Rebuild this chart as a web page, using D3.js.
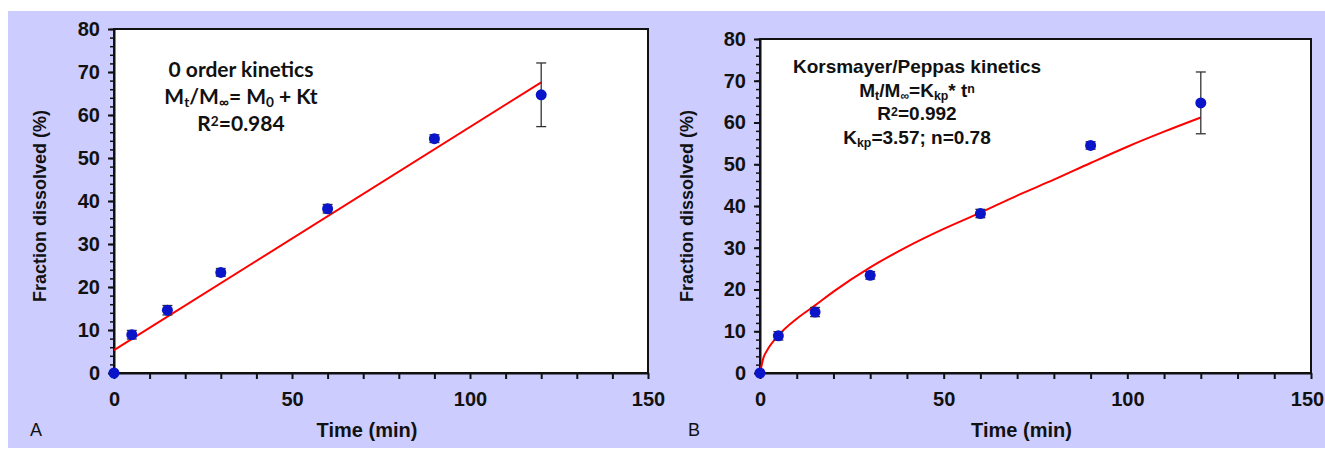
<!DOCTYPE html>
<html>
<head>
<meta charset="utf-8">
<script src="https://cdn.jsdelivr.net/npm/d3@7"></script>
<style>
  body { margin: 0; background: #fff; }
  svg { display: block; }
</style>
</head>
<body>
<div id="chart-area"></div>
<script>
// measured data (same release data in both panels)
var times = [0, 5, 15, 30, 60, 90, 120];
var dissolved = [0, 8.9, 14.6, 23.4, 38.2, 54.5, 64.7];
var errors = [0.3, 1.0, 1.1, 0.9, 1.0, 0.9, 7.4];

// fitted curves
var zeroFitTimes = [0, 120];
var zeroFitValues = [5.3, 67.6];
var kpFitTimes = [0, 1, 2, 5, 10, 15, 20, 30, 40, 50, 60, 70, 80, 90, 100, 110, 120];
var kpFitValues = [0, 3.8, 5.5, 9.0, 13.0, 16.2, 19.5, 25.3, 30.2, 34.5, 38.4, 42.5, 46.3, 50.3, 54.2, 57.8, 61.2];

// tick labels
var xTicks = [0, 50, 100, 150];
var yTicks = [0, 10, 20, 30, 40, 50, 60, 70, 80];

var W = 1325, H = 450;

var svg = d3.select("#chart-area")
    .append("svg")
        .attr("width", W)
        .attr("height", H);

// lavender backdrop
svg.append("rect")
    .attr("x", 8).attr("y", 11)
    .attr("width", W - 8).attr("height", 437)
    .attr("fill", "#ccccff");

var tickFont = "'Liberation Sans Narrow', 'Arial Narrow', Arial, sans-serif";
var titleFont = "'Liberation Sans', Arial, sans-serif";

function drawPanel(p) {
    var x = d3.scaleLinear().domain([0, 150]).range([p.left, p.right]);
    var y = d3.scaleLinear().domain([0, 80]).range([p.bottom, p.top]);

    // plot area
    svg.append("rect")
        .attr("x", p.left).attr("y", p.top)
        .attr("width", p.right - p.left).attr("height", p.bottom - p.top)
        .attr("fill", "#fff")
        .attr("stroke", "#111").attr("stroke-width", 2);

    // X axis
    var xAxis = svg.append("g")
        .attr("transform", "translate(0," + p.bottom + ")")
        .call(d3.axisBottom(x).tickValues(d3.range(0, 151, 10)).tickSize(6).tickSizeOuter(0)
            .tickFormat(function(d){ return xTicks.indexOf(d) >= 0 ? d : ""; }));
    xAxis.select(".domain").attr("stroke", "#111").attr("stroke-width", 2);
    xAxis.selectAll(".tick line").attr("stroke", "#111").attr("stroke-width", 2);
    xAxis.selectAll("text")
        .attr("font-family", tickFont).attr("font-weight", "bold")
        .attr("font-size", "20px").attr("fill", "#111").attr("dy", "1.2em");
    // keep the last label inside the page
    xAxis.selectAll(".tick text")
        .filter(function(d){ return d === 150 && x(150) > W - 20; })
        .attr("dx", "-4");

    // Y axis minor ticks
    var yMinor = svg.append("g")
        .attr("transform", "translate(" + p.left + ",0)")
        .call(d3.axisLeft(y).tickValues(d3.range(0, 81, 2)).tickSize(4).tickFormat(""));
    yMinor.select(".domain").remove();
    yMinor.selectAll(".tick line").attr("stroke", "#111").attr("stroke-width", 1.5);

    // Y axis major
    var yAxis = svg.append("g")
        .attr("transform", "translate(" + p.left + ",0)")
        .call(d3.axisLeft(y).tickValues(yTicks).tickSize(6).tickPadding(8).tickSizeOuter(0));
    yAxis.select(".domain").attr("stroke", "#111").attr("stroke-width", 2);
    yAxis.selectAll(".tick line").attr("stroke", "#111").attr("stroke-width", 2);
    yAxis.selectAll("text")
        .attr("font-family", tickFont).attr("font-weight", "bold")
        .attr("font-size", "20px").attr("fill", "#111");

    // Y Label
    svg.append("text")
        .attr("transform", "translate(" + p.yLabelX + "," + p.yLabelY + ") rotate(-90)")
        .attr("text-anchor", "middle")
        .attr("font-family", titleFont).attr("font-weight", "bold")
        .attr("font-size", "18px").attr("fill", "#111")
        .text("Fraction dissolved (%)");

    // X Label
    svg.append("text")
        .attr("x", (p.left + p.right) / 2 - 14)
        .attr("y", 437)
        .attr("text-anchor", "middle")
        .attr("font-family", tickFont).attr("font-weight", "bold")
        .attr("font-size", "20px").attr("fill", "#111")
        .text("Time (min)");

    // panel letter
    svg.append("text")
        .attr("x", p.letterX).attr("y", 436)
        .attr("font-family", titleFont)
        .attr("font-size", "18px").attr("fill", "#111")
        .text(p.letter);

    // fit curve
    var line = d3.line()
        .x(function(d){ return x(d[0]); })
        .y(function(d){ return y(d[1]); })
        .curve(d3.curveMonotoneX);
    svg.append("path")
        .datum(d3.zip(p.fitX, p.fitY))
        .attr("d", line)
        .attr("fill", "none")
        .attr("stroke", "#ff0000").attr("stroke-width", 2);

    // error bars
    var pts = d3.zip(times, dissolved, errors);
    var eb = svg.append("g").selectAll("g").data(pts).enter().append("g");
    eb.append("line")
        .attr("x1", function(d){ return x(d[0]); }).attr("x2", function(d){ return x(d[0]); })
        .attr("y1", function(d){ return y(d[1] - d[2]); }).attr("y2", function(d){ return y(d[1] + d[2]); })
        .attr("stroke", "#333").attr("stroke-width", 1.3);
    [1, -1].forEach(function(s) {
        eb.append("line")
            .attr("x1", function(d){ return x(d[0]) - 5; }).attr("x2", function(d){ return x(d[0]) + 5; })
            .attr("y1", function(d){ return y(d[1] + s * d[2]); }).attr("y2", function(d){ return y(d[1] + s * d[2]); })
            .attr("stroke", "#333").attr("stroke-width", 1.3);
    });

    // points
    svg.append("g").selectAll("circle").data(pts).enter().append("circle")
        .attr("cx", function(d){ return x(d[0]); })
        .attr("cy", function(d){ return y(d[1]); })
        .attr("r", 5.5)
        .attr("fill", "#0a14c8");
}

drawPanel({ left: 114, right: 648, top: 29, bottom: 373, yLabelX: 46, yLabelY: 206, letterX: 30, letter: "A",
            fitX: zeroFitTimes, fitY: zeroFitValues });
drawPanel({ left: 760, right: 1311, top: 39, bottom: 373, yLabelX: 693, yLabelY: 206, letterX: 688, letter: "B",
            fitX: kpFitTimes, fitY: kpFitValues });

// annotation helper: each line is a list of [text, shift] pieces
function annotate(cx, baselines, lines, font, size) {
    lines.forEach(function(parts, i) {
        var t = svg.append("text")
            .attr("x", cx).attr("y", baselines[i])
            .attr("text-anchor", "middle")
            .attr("font-family", font).attr("font-weight", "bold")
            .attr("font-size", size + "px").attr("fill", "#111");
        parts.forEach(function(pt) {
            var ts = t.append("tspan").text(pt[0]);
            if (pt[1] === "sub") ts.attr("baseline-shift", "-22%").attr("font-size", (size * 0.65) + "px");
            if (pt[1] === "sup") ts.attr("baseline-shift", "35%").attr("font-size", (size * 0.65) + "px");
        });
    });
}

annotate(241, [77, 104, 131], [
    [["0 order kinetics"]],
    [["M"], ["t", "sub"], ["/M"], ["\u221e", "sub"], ["= M"], ["0", "sub"], [" + Kt"]],
    [["R"], ["2", "sup"], ["=0.984"]]
], "Lato, 'Open Sans', sans-serif", 21);

annotate(917, [73, 97, 120, 144], [
    [["Korsmayer/Peppas kinetics"]],
    [["M"], ["t", "sub"], ["/M"], ["\u221e", "sub"], ["=K"], ["kp", "sub"], ["* t"], ["n", "sup"]],
    [["R"], ["2", "sup"], ["=0.992"]],
    [["K"], ["kp", "sub"], ["=3.57; n=0.78"]]
], titleFont, 19);
</script>
</body>
</html>
